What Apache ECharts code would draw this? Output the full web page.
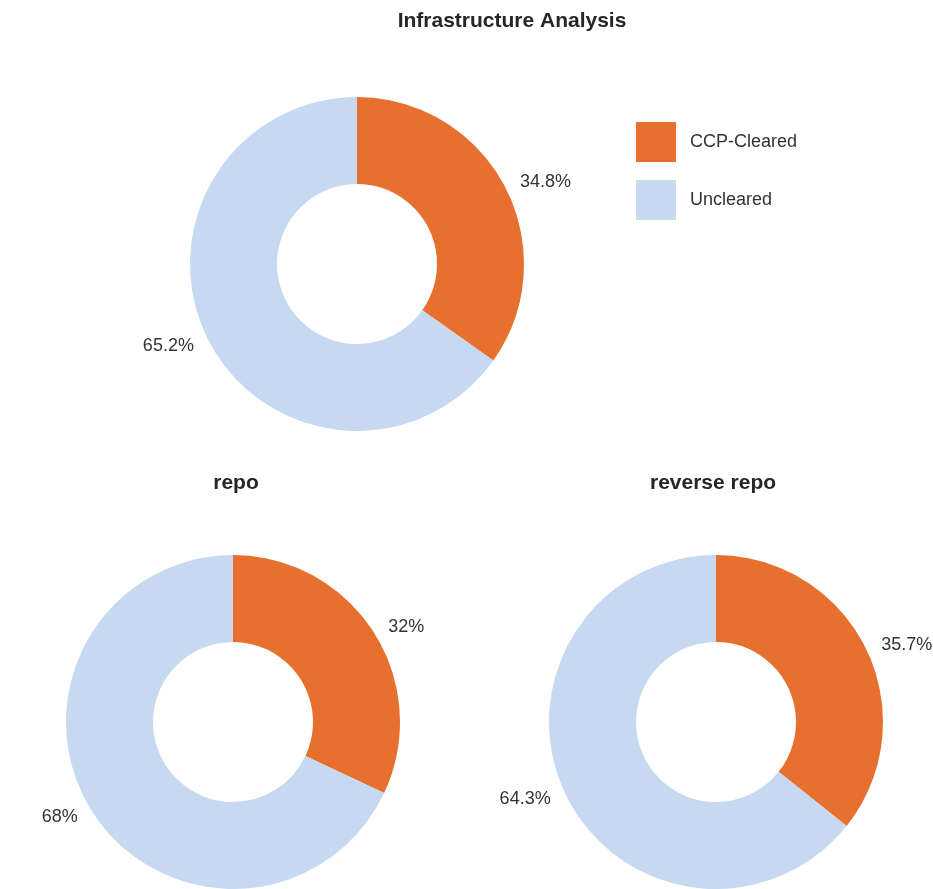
<!DOCTYPE html>
<html>
<head>
<meta charset="utf-8">
<script src="https://cdn.jsdelivr.net/npm/echarts@6/dist/echarts.min.js"></script>
<style>
  html, body { margin: 0; padding: 0; background: #fff; }
  #chart { width: 933px; height: 889px; }
</style>
</head>
<body>
<div id="chart"></div>
<script>
const categories = ['CCP-Cleared', 'Uncleared'];
const colors = ['#E8702F', '#C6D9F0'];
const totalShares = [34.8, 65.2];
const repoShares = [32, 68];
const reverseRepoShares = [35.7, 64.3];

const font = 'Liberation Sans, Arial, sans-serif';

const chart = echarts.init(document.getElementById('chart'));

const donut = (name, values, center) => ({
  name: name,
  type: 'pie',
  center: center,
  radius: [80, 167],
  startAngle: 90,
  clockwise: true,
  avoidLabelOverlap: false,
  silent: true,
  itemStyle: { borderWidth: 0 },
  label: {
    show: true,
    position: 'outside',
    formatter: '{c}%',
    fontFamily: font,
    fontSize: 18,
    color: '#333'
  },
  labelLine: { show: false, length: 11, length2: 0 },
  data: categories.map((c, i) => ({ name: c, value: values[i], itemStyle: { color: colors[i] } }))
});

const titleStyle = { fontFamily: font, fontSize: 21, fontWeight: 'bold', color: '#262626' };

const option = {
  animation: false,
  backgroundColor: '#fff',
  title: [
    { text: 'Infrastructure Analysis', left: 507, top: 6, textAlign: 'center', textStyle: titleStyle },
    { text: 'repo', left: 231, top: 468, textAlign: 'center', textStyle: titleStyle },
    { text: 'reverse repo', left: 708, top: 468, textAlign: 'center', textStyle: titleStyle }
  ],
  legend: {
    orient: 'vertical',
    left: 636,
    top: 122,
    padding: 0,
    itemWidth: 40,
    itemHeight: 40,
    itemGap: 18,
    icon: 'rect',
    selectedMode: false,
    data: categories,
    textStyle: { fontFamily: font, fontSize: 18, color: '#333', padding: [0, 0, 0, 9] }
  },
  series: [
    donut('Infrastructure Analysis', totalShares, [357, 264]),
    donut('repo', repoShares, [233, 722]),
    donut('reverse repo', reverseRepoShares, [716, 722])
  ]
};

chart.setOption(option);
</script>
</body>
</html>
